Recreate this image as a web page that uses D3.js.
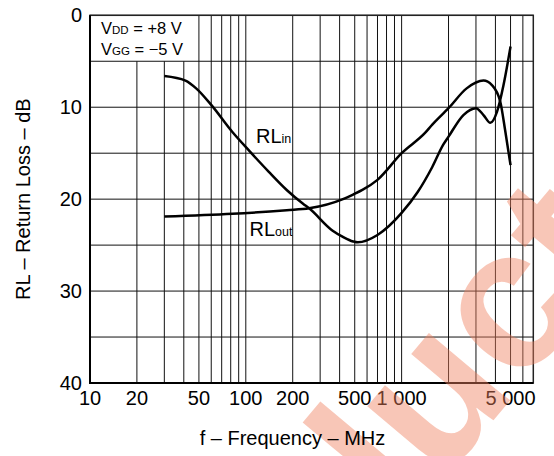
<!DOCTYPE html>
<html>
<head>
<meta charset="utf-8">
<script src="https://d3js.org/d3.v7.min.js"></script>
<style>
body { margin: 0; background: #fff; }
svg { display: block; font-family: "Liberation Sans", Arial, sans-serif; }
</style>
</head>
<body>
<div id="chart"></div>
<script>

/* axis ticks and grid */
var freqTicks = [10, 20, 50, 100, 200, 500, 1000, 5000],
    freqTickLabels = ["10", "20", "50", "100", "200", "500", "1 000", "5 000"],
    freqGrid = [10, 20, 30, 40, 50, 60, 70, 80, 90,
                100, 200, 300, 400, 500, 600, 700, 800, 900,
                1000, 2000, 3000, 4000, 5000, 6000],
    lossTicks = [0, 10, 20, 30, 40],
    lossGrid = [0, 5, 10, 15, 20, 25, 30, 35, 40];

/* RL in (MHz, dB) */
var rlInFreq = [30, 41, 48, 60, 82, 106, 140, 183, 233, 255, 359, 420, 488, 523,
                700, 1000, 1271, 1573, 1846, 2000, 2491, 3000, 3352, 3709, 4092, 4505, 5000],
    rlInLoss = [6.6, 7.1, 7.95, 9.75, 12.7, 14.8, 17.0, 19.0, 20.5, 21.0, 23.4, 24.1, 24.6, 24.7,
                23.9, 21.5, 19.2, 16.5, 14.1, 13.2, 10.85, 10.1, 10.85, 11.7, 10.5, 7.6, 3.4];

/* RL out */
var rlOutFreq = [30, 82, 183, 255, 420, 488, 560, 700, 1000, 1413, 1573, 1846, 2000,
                 2614, 3352, 3798, 4297, 4617, 5000],
    rlOutLoss = [21.9, 21.6, 21.2, 21.0, 20.0, 19.5, 19.0, 17.9, 15.0, 12.8, 11.9, 10.7, 10.1,
                 7.95, 7.1, 7.6, 9.4, 12.5, 16.3];

var margin = {top: 15.3, right: 20.7, bottom: 73, left: 90},
    width = 554 - margin.left - margin.right,
    height = 456 - margin.top - margin.bottom;

var x = d3.scaleLog().domain([10, 7000]).range([0, width]),
    y = d3.scaleLinear().domain([0, 40]).range([0, height]);

var svg = d3.select("#chart").append("svg")
    .attr("width", 554)
    .attr("height", 456);

svg.append("rect")
    .attr("width", 554)
    .attr("height", 456)
    .attr("fill", "#fff");

var g = svg.append("g")
    .attr("transform", "translate(" + margin.left + "," + margin.top + ")");

/* watermark sits under the grid */
svg.append("text")
    .attr("transform", "translate(633,254) rotate(-50)")
    .attr("text-anchor", "end")
    .attr("font-size", 200)
    .attr("font-weight", "bold")
    .attr("fill", "#f08060")
    .attr("fill-opacity", 0.45)
    .text("Product");

/* vertical grid, the lines left of 50 MHz stop under the label box */
g.selectAll(".vgrid")
    .data(freqGrid)
  .enter().append("line")
    .attr("class", "vgrid")
    .attr("x1", function(d) { return x(d); })
    .attr("x2", function(d) { return x(d); })
    .attr("y1", function(d) { return (d > 10 && d < 50) ? y(5) : 0; })
    .attr("y2", height)
    .attr("stroke", "#111")
    .attr("stroke-width", 1);

g.selectAll(".hgrid")
    .data(lossGrid)
  .enter().append("line")
    .attr("class", "hgrid")
    .attr("x1", 0)
    .attr("x2", width)
    .attr("y1", function(d) { return y(d); })
    .attr("y2", function(d) { return y(d); })
    .attr("stroke", "#111")
    .attr("stroke-width", 1);

/* frame */
g.append("rect")
    .attr("width", width)
    .attr("height", height)
    .attr("fill", "none")
    .attr("stroke", "#222")
    .attr("stroke-width", 1.5);

g.append("path")
    .attr("d", "M0,0V" + height + "H" + width)
    .attr("fill", "none")
    .attr("stroke", "#000")
    .attr("stroke-width", 2);

/* tick labels */
g.selectAll(".xlab")
    .data(freqTicks)
  .enter().append("text")
    .attr("class", "xlab")
    .attr("x", function(d) { return x(d); })
    .attr("y", height + 22.5)
    .attr("text-anchor", "middle")
    .attr("font-size", 20)
    .attr("fill", "#000")
    .text(function(d, i) { return freqTickLabels[i]; });

g.selectAll(".ylab")
    .data(lossTicks)
  .enter().append("text")
    .attr("class", "ylab")
    .attr("x", -8)
    .attr("y", function(d) { return y(d); })
    .attr("dy", "0.35em")
    .attr("text-anchor", "end")
    .attr("font-size", 20)
    .attr("fill", "#000")
    .text(function(d) { return d; });

/* axis titles */
svg.append("text")
    .attr("x", 292.5)
    .attr("y", 445)
    .attr("text-anchor", "middle")
    .attr("font-size", 20)
    .text("f \u2013 Frequency \u2013 MHz");

svg.append("text")
    .attr("transform", "translate(30," + (margin.top + height / 2) + ") rotate(-90)")
    .attr("text-anchor", "middle")
    .attr("font-size", 20)
    .text("RL \u2013 Return Loss \u2013 dB");

/* curves */
var line = d3.line()
    .x(function(d) { return x(d[0]); })
    .y(function(d) { return y(d[1]); })
    .curve(d3.curveMonotoneX);

g.append("path")
    .datum(d3.zip(rlInFreq, rlInLoss))
    .attr("class", "line rlin")
    .attr("d", line)
    .attr("fill", "none")
    .attr("stroke", "#000")
    .attr("stroke-width", 2.5);

g.append("path")
    .datum(d3.zip(rlOutFreq, rlOutLoss))
    .attr("class", "line rlout")
    .attr("d", line)
    .attr("fill", "none")
    .attr("stroke", "#000")
    .attr("stroke-width", 2.5);

/* curve labels */
function addCurveLabel(px, py, sub) {
  var t = svg.append("text")
      .attr("x", px)
      .attr("y", py)
      .attr("font-size", 20);
  t.append("tspan").text("RL");
  t.append("tspan").attr("font-size", 12.5).text(sub);
}
addCurveLabel(256, 142.7, "in");
addCurveLabel(249.5, 236, "out");

/* supply conditions */
function addSupply(py, sub, rest) {
  var t = svg.append("text")
      .attr("x", 101)
      .attr("y", py)
      .attr("font-size", 16.5);
  t.append("tspan").text("V");
  t.append("tspan").attr("font-size", 11.5).text(sub);
  t.append("tspan").text(rest);
}
addSupply(34.3, "DD", " = +8 V");
addSupply(55, "GG", " = \u22125 V");

</script>
</body>
</html>
